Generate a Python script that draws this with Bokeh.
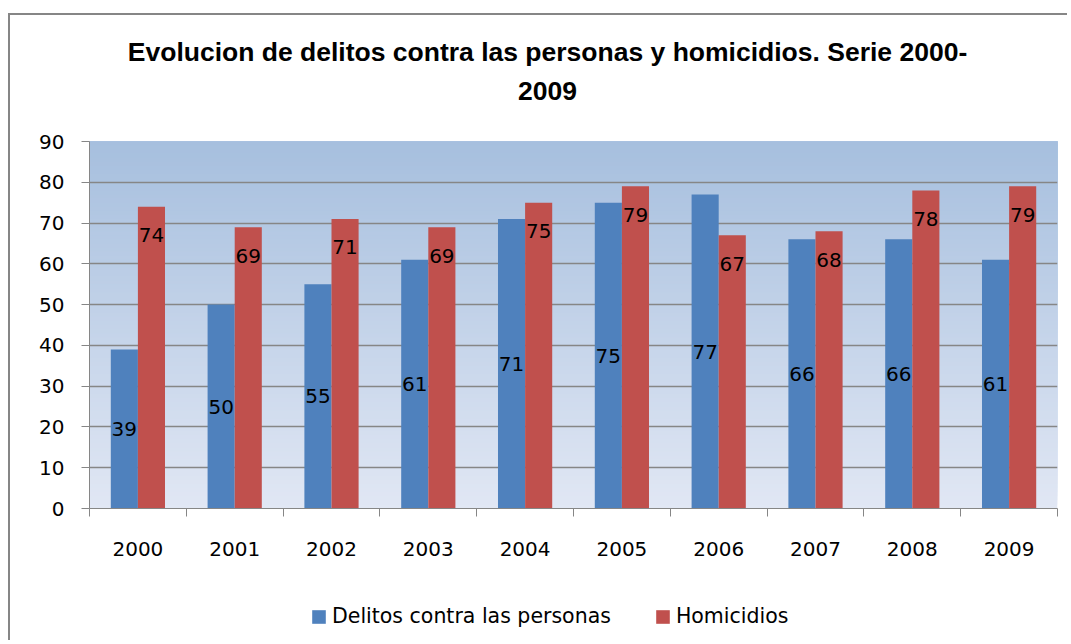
from bokeh.plotting import figure
from bokeh.layouts import column
from bokeh.models import (ColumnDataSource, FixedTicker, Legend, LegendItem, Label,
                          BoxAnnotation, Range1d)
from bokeh.transform import dodge
from bokeh.core.properties import value
from bokeh.embed import file_html
from bokeh.resources import INLINE

# ---- data ----
years = ["2000", "2001", "2002", "2003", "2004", "2005", "2006", "2007", "2008", "2009"]
delitos = [39, 50, 55, 61, 71, 75, 77, 66, 66, 61]
homicidios = [74, 69, 71, 69, 75, 79, 67, 68, 78, 79]
y_ticks = [0, 10, 20, 30, 40, 50, 60, 70, 80, 90]
series_names = ["Delitos contra las personas", "Homicidios"]
title_lines = ["Evolucion de delitos contra las personas y homicidios. Serie 2000-", "2009"]

idx = list(range(len(years)))
source = ColumnDataSource(dict(
    idx=idx,
    delitos=delitos,
    homicidios=homicidios,
    delitos_mid=[v / 2 for v in delitos],
    delitos_txt=[str(v) for v in delitos],
    homicidios_txt=[str(v) for v in homicidios],
))

BLUE = "#4F81BD"
RED = "#C0504D"
GRID = "#868686"
W = 1059
FRAME_W = 968          # plot-area width (frames of stacked figures are aligned)
H0, H1, H2 = 100, 473, 54


def blank(h):
    f = figure(width=W, height=h, output_backend="svg", toolbar_location=None,
               x_range=Range1d(0, FRAME_W), y_range=Range1d(0, h),
               x_axis_type=None, y_axis_type=None,
               min_border=0, min_border_left=79, min_border_right=W - 79 - FRAME_W,
               min_border_top=0, min_border_bottom=0)
    f.title = None
    f.outline_line_color = None
    f.background_fill_color = None
    f.border_fill_color = None
    return f


# ---- title strip ----
p0 = blank(H0)
for txt, yb in zip(title_lines, [64, 25]):
    p0.add_layout(Label(x=458, y=yb, text=txt, text_align="center", text_baseline="alphabetic",
                        text_font="Liberation Sans", text_font_style="bold",
                        text_font_size="26.5px", text_color="black"))

# ---- main chart ----
p = figure(width=W, height=H1, output_backend="svg", toolbar_location=None,
           x_range=Range1d(-0.5, len(years) - 0.5), y_range=Range1d(0, 90),
           min_border_left=79, min_border_right=W - 79 - FRAME_W, min_border_top=26,
           min_border_bottom=H1 - 26 - 367)
p.title = None
p.outline_line_color = None
p.background_fill_color = None
p.border_fill_color = None

# gradient background (style only); each band reaches the top to avoid seams
top_c = (166, 191, 222)
bot_c = (225, 231, 244)
nb = 90
for i in range(nb):
    t = (i + 0.5) / nb
    c = tuple(int(round(bot_c[k] + (top_c[k] - bot_c[k]) * t)) for k in range(3))
    p.add_layout(BoxAnnotation(bottom=90 * i / nb, top=90,
                               fill_color="#%02x%02x%02x" % c, fill_alpha=1.0,
                               line_color=None, level="image"))

bw = 0.28
rb = p.vbar(x=dodge("idx", -bw / 2, range=p.x_range), top="delitos", width=bw,
            source=source, color=BLUE, line_color=None)
rr = p.vbar(x=dodge("idx", bw / 2, range=p.x_range), top="homicidios", width=bw,
            source=source, color=RED, line_color=None)

p.text(x=dodge("idx", -bw / 2, range=p.x_range), y="delitos_mid", text="delitos_txt",
       source=source, text_align="center", text_baseline="middle",
       text_font=value("DejaVu Sans"), text_font_size="20px", text_color="black")
p.text(x=dodge("idx", bw / 2, range=p.x_range), y="homicidios", text="homicidios_txt",
       source=source, text_align="center", text_baseline="middle", y_offset=28.5,
       text_font=value("DejaVu Sans"), text_font_size="20px", text_color="black")

p.yaxis.ticker = FixedTicker(ticks=y_ticks)
p.yaxis.axis_line_color = GRID
p.yaxis.major_tick_line_color = GRID
p.yaxis.major_tick_out = 8
p.yaxis.major_tick_in = 0
p.yaxis.minor_tick_line_color = None
p.yaxis.major_label_standoff = 17
p.yaxis.major_label_text_font = "DejaVu Sans"
p.yaxis.major_label_text_font_size = "20px"
p.yaxis.major_label_text_color = "black"

p.xaxis.ticker = FixedTicker(ticks=idx, minor_ticks=[i - 0.5 for i in range(len(years) + 1)])
p.xaxis.major_label_overrides = {i: y for i, y in zip(idx, years)}
p.xaxis.axis_line_color = GRID
p.xaxis.major_tick_line_color = None
p.xaxis.major_tick_out = 0
p.xaxis.major_tick_in = 0
p.xaxis.minor_tick_line_color = GRID
p.xaxis.minor_tick_out = 8
p.xaxis.minor_tick_in = 0
p.xaxis.major_label_standoff = 25
p.xaxis.major_label_text_font = "DejaVu Sans"
p.xaxis.major_label_text_font_size = "20px"
p.xaxis.major_label_text_color = "black"

p.xgrid.grid_line_color = None
p.ygrid.ticker = FixedTicker(ticks=y_ticks)
p.ygrid.grid_line_color = GRID
p.ygrid.grid_line_width = 1.5
p.ygrid.level = "underlay"

# ---- legend strip (proxy glyphs of zero height, only for the legend keys) ----
p2 = blank(H2)
proxy = ColumnDataSource(dict(x=[0], top=[0]))
lb = p2.vbar(x="x", top="top", width=0, source=proxy, color=BLUE, line_color=None)
lr = p2.vbar(x="x", top="top", width=0, source=proxy, color=RED, line_color=None)
legend = Legend(items=[LegendItem(label=series_names[0], renderers=[lb]),
                       LegendItem(label=series_names[1], renderers=[lr])],
                orientation="horizontal", location=(221, 14),
                border_line_color=None, background_fill_alpha=0,
                padding=0, margin=0, spacing=43, glyph_width=17, glyph_height=17,
                label_standoff=5, label_height=20,
                label_text_font="DejaVu Sans", label_text_font_size="20.5px",
                label_text_color="black")
p2.add_layout(legend)

layout = column(p0, p, p2, spacing=0)
layout.margin = (15, 0, 0, 10)
layout.styles = {"box-shadow": "-2px -2px 0 0 #868686", "background": "white"}

open("out.html", "w").write(file_html(layout, INLINE))
